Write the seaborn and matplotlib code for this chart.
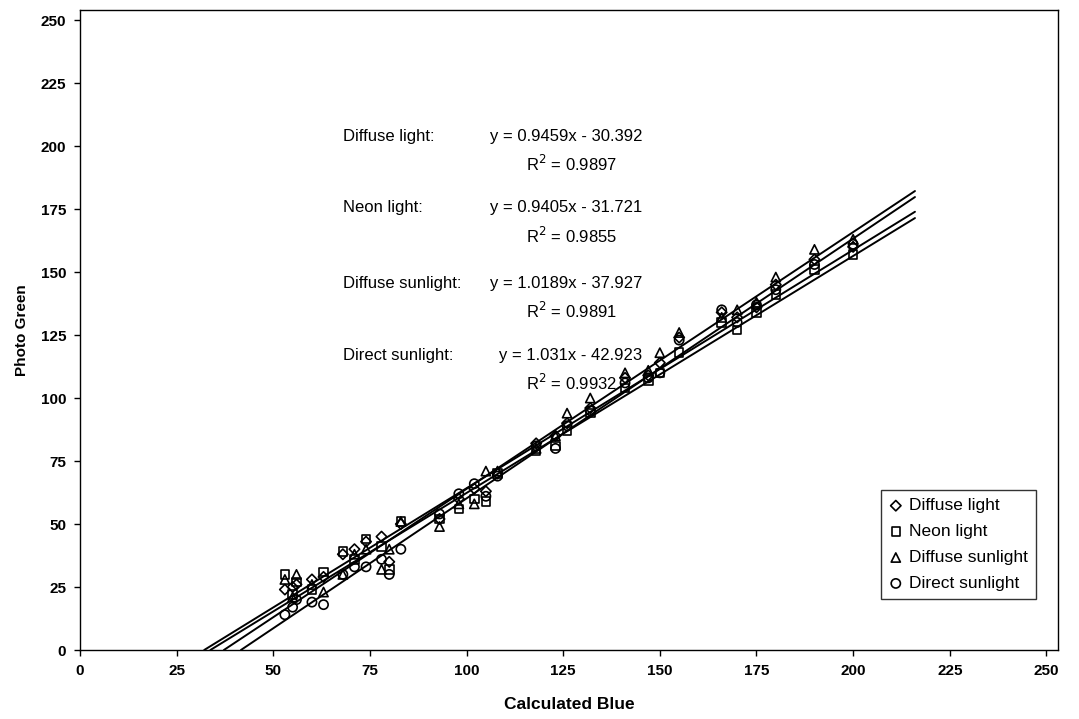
import numpy as np
import pandas as pd
import matplotlib
matplotlib.use("Agg")
import matplotlib.pyplot as plt
import seaborn as sns

sns.set_theme(style="ticks", rc={"text.color": "black", "axes.labelcolor": "black",
                                 "xtick.color": "black", "ytick.color": "black",
                                 "axes.edgecolor": "black"})
plt.rcParams['font.family'] = ['Liberation Sans', 'DejaVu Sans']

series_names = ["Diffuse light", "Neon light", "Diffuse sunlight", "Direct sunlight"]
markers = ["D", "s", "^", "o"]
marker_sizes = [28, 38, 44, 44]

x_vals = [53, 55, 56, 60, 63, 68, 71, 74, 78, 80, 83, 93, 98, 102, 105, 108,
          118, 123, 126, 132, 141, 147, 150, 155, 166, 170, 175, 180, 190, 200]

diffuse_light = [24, 25, 26, 28, 29, 38, 40, 43, 45, 35, 50, 52, 60, 64, 63, 70,
                 82, 85, 90, 96, 108, 109, 114, 124, 134, 132, 136, 145, 155, 160]
neon_light = [30, 22, 27, 24, 31, 39, 36, 44, 41, 32, 51, 52, 56, 60, 59, 70,
              79, 81, 87, 94, 104, 107, 110, 118, 130, 127, 134, 141, 151, 157]
diffuse_sunlight = [28, 21, 30, 26, 23, 30, 38, 40, 32, 40, 51, 49, 58, 58, 71, 71,
                    80, 85, 94, 100, 110, 111, 118, 126, 132, 135, 138, 148, 159, 163]
direct_sunlight = [14, 17, 20, 19, 18, 30, 33, 33, 36, 30, 40, 54, 62, 66, 61, 69,
                   81, 80, 89, 95, 106, 108, 110, 123, 135, 130, 137, 143, 153, 161]

slopes = [0.9459, 0.9405, 1.0189, 1.031]
intercepts = [-30.392, -31.721, -37.927, -42.923]
r_squared = [0.9897, 0.9855, 0.9891, 0.9932]
line_end_x = 216

series_values = [diffuse_light, neon_light, diffuse_sunlight, direct_sunlight]

fig = plt.figure(figsize=(10.79, 7.19), dpi=100)
ax = fig.add_axes([80/1079, 1 - 650/719, (1058-80)/1079, (650-10)/719])

for name, mk, ms, vals in zip(series_names, markers, marker_sizes, series_values):
    df = pd.DataFrame({"x": x_vals, "y": vals})
    sns.scatterplot(data=df, x="x", y="y", marker=mk, s=ms, ax=ax,
                    facecolor="none", edgecolor="black", linewidth=1.2,
                    label=name, zorder=3)

for m, b in zip(slopes, intercepts):
    x0 = -b / m
    xs = np.array([x0, line_end_x])
    sns.lineplot(x=xs, y=m * xs + b, ax=ax, color="black", lw=1.4, zorder=2)

ax.set_xlim(0, 253)
ax.set_ylim(0, 254)
ax.set_xticks(np.arange(0, 251, 25))
ax.set_yticks(np.arange(0, 251, 25))
for lab in ax.get_xticklabels() + ax.get_yticklabels():
    lab.set_fontweight("bold")
ax.tick_params(axis="both", labelsize=11, length=4, width=1, color="black",
               labelcolor="black", pad=6)
for sp in ax.spines.values():
    sp.set_visible(True)
    sp.set_color("black")
    sp.set_linewidth(1.0)

ax.set_xlabel("Calculated Blue", fontsize=12.5, fontweight="bold", labelpad=14, color="black")
ax.set_ylabel("Photo Green", fontsize=11, fontweight="bold", labelpad=8, color="black")

# annotations (positions in data coordinates)
label_x = 68
eq_x = [106, 106, 106, 108.5]
r2_x = 115.5
label_y = [203.8, 175.5, 145.5, 116.8]
r2_dy = 11
fs = 12
for i in range(4):
    ax.text(label_x, label_y[i], series_names[i] + ":", fontsize=fs, va="center",
            ha="left", color="black")
    sign = "-" if intercepts[i] < 0 else "+"
    ax.text(eq_x[i], label_y[i], f"y = {slopes[i]}x {sign} {abs(intercepts[i])}",
            fontsize=fs, va="center", ha="left", color="black")
    ax.text(r2_x, label_y[i] - r2_dy, f"R$^2$ = {r_squared[i]}", fontsize=fs,
            va="center", ha="left", color="black")

leg = ax.legend(loc="lower right", bbox_to_anchor=(0.977, 0.08), frameon=True,
                fancybox=False, edgecolor="black", fontsize=12.5, handletextpad=0.35,
                borderpad=0.45, labelspacing=0.62, handlelength=0.8, markerscale=1.0,
                borderaxespad=0)
leg.get_frame().set_linewidth(1.0)
for t in leg.get_texts():
    t.set_color("black")

fig.savefig("out.png", dpi=100)
